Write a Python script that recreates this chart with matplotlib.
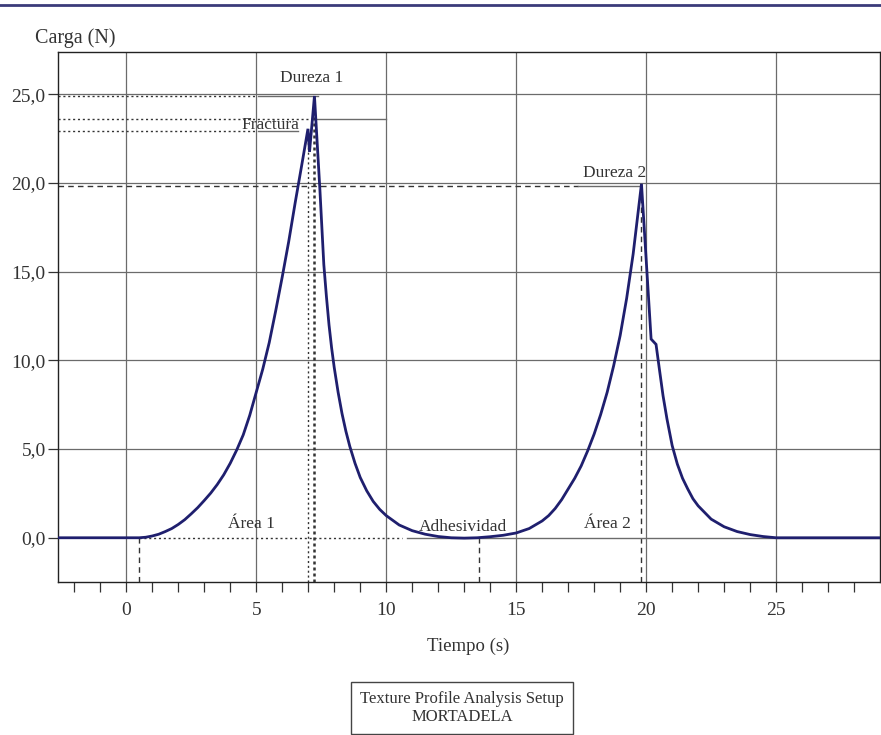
import matplotlib.pyplot as plt
from matplotlib.lines import Line2D

plt.rcParams['font.family'] = ['Liberation Serif', 'DejaVu Serif']

# force curve (time in s, force in N)
time_s = [-2.6, 0.0, 0.5, 0.75, 1.0, 1.25, 1.5, 1.75, 2.0, 2.25, 2.5, 2.75, 3.0,
          3.25, 3.5, 3.75, 4.0, 4.25, 4.5, 4.75, 5.0, 5.25, 5.5, 5.75, 6.0, 6.25,
          6.5, 6.75, 6.99, 7.05, 7.24, 7.45, 7.6, 7.7, 7.8, 7.9, 8.0, 8.15, 8.3,
          8.45, 8.6, 8.8, 9.0, 9.25, 9.5, 9.75, 10.0, 10.5, 11.0, 11.5, 12.0,
          12.5, 13.0, 13.5, 14.0, 14.5, 15.0, 15.5, 16.0, 16.25, 16.5, 16.75,
          17.0, 17.25, 17.5, 17.75, 18.0, 18.25, 18.5, 18.75, 19.0, 19.25, 19.5,
          19.82, 20.19, 20.38, 20.5, 20.65, 20.8, 21.0, 21.2, 21.4, 21.6, 21.8,
          22.0, 22.5, 23.0, 23.5, 24.0, 24.5, 25.0, 29.0]
force_n = [0.0, 0.0, 0.0, 0.03, 0.1, 0.2, 0.35, 0.52, 0.75, 1.02, 1.35, 1.7, 2.1,
           2.52, 3.0, 3.55, 4.2, 4.95, 5.8, 6.9, 8.2, 9.5, 11.0, 12.8, 14.7, 16.7,
           18.9, 21.0, 23.05, 21.75, 24.9, 19.6, 15.4, 13.6, 12.0, 10.7, 9.6, 8.2,
           7.0, 6.0, 5.15, 4.2, 3.4, 2.65, 2.05, 1.6, 1.25, 0.72, 0.4, 0.2, 0.07,
           0.0, -0.02, 0.0, 0.06, 0.14, 0.27, 0.52, 0.95, 1.25, 1.65, 2.15,
           2.75, 3.35, 4.05, 4.9, 5.85, 6.95, 8.2, 9.7, 11.4, 13.5, 16.0,
           19.95, 11.2, 10.9, 9.6, 8.0, 6.7, 5.2, 4.15, 3.35, 2.75, 2.2,
           1.8, 1.05, 0.62, 0.35, 0.18, 0.07, 0.0, 0.0]

# marked points
fractura = (6.99, 23.05)
dureza1 = (7.24, 24.9)
dureza2 = (19.82, 19.8)
ref_level = 23.6
area1_start = 0.48
adhes_end = 13.57

x_ticks = [0, 5, 10, 15, 20, 25]
y_ticks = [0, 5, 10, 15, 20, 25]
y_labels = ['0,0', '5,0', '10,0', '15,0', '20,0', '25,0']

curve_col = '#1f1f6e'
grid_col = '#6b6b6b'
mark_col = '#333333'
text_col = '#333333'

fig = plt.figure(figsize=(8.81, 7.35), dpi=100)
ax = fig.add_axes([0.066, 0.208, 0.933, 0.721])
xmin, xmax = -2.62, 29.0
ymin, ymax = -2.5, 27.37
ax.set_xlim(xmin, xmax)
ax.set_ylim(ymin, ymax)

# grid (no line at y = 0)
for xv in x_ticks:
    ax.axvline(xv, color=grid_col, lw=0.9, zorder=1)
for yv in y_ticks[1:]:
    ax.axhline(yv, color=grid_col, lw=0.9, zorder=1)

ax.set_xticks(x_ticks)
ax.set_xticks(range(-2, 29), minor=True)
ax.set_yticks(y_ticks)
ax.set_yticklabels(y_labels)
ax.tick_params(axis='both', direction='out', length=7, width=0.9, color=mark_col,
               labelsize=14, labelcolor=text_col)
ax.tick_params(axis='x', which='minor', direction='out', length=7, width=0.9, color=mark_col)
ax.tick_params(axis='x', pad=7)
ax.tick_params(axis='y', pad=2)
for s in ax.spines.values():
    s.set_color('#222222')
    s.set_linewidth(1.0)

# annotation lines
dot = dict(color=mark_col, lw=1.0, ls=(0, (1.5, 2)), zorder=2)
dash = dict(color=mark_col, lw=1.0, ls=(0, (4, 3)), zorder=2)
solid = dict(color=grid_col, lw=1.0, zorder=2)

ax.plot([xmin, 5.0], [dureza1[1], dureza1[1]], **dot)
ax.plot([5.05, 7.38], [dureza1[1], dureza1[1]], **solid)
ax.plot([xmin, dureza1[0]], [ref_level, ref_level], **dot)
ax.plot([7.3, 10.0], [ref_level, ref_level], **solid)
ax.plot([xmin, 5.0], [22.9, 22.9], **dot)
ax.plot([5.05, 6.6], [22.9, 22.9], **solid)
ax.plot([fractura[0], fractura[0]], [ymin, fractura[1]], **dot)
ax.plot([dureza1[0], dureza1[0]], [ymin, dureza1[1]], color=mark_col, lw=1.8,
        ls=(0, (1.2, 1.2)), zorder=2)

ax.plot([xmin, 17.38], [dureza2[1], dureza2[1]], **dash)
ax.plot([17.38, dureza2[0]], [dureza2[1], dureza2[1]], **solid)
ax.plot([dureza2[0], dureza2[0]], [ymin, dureza2[1]], **dash)

ax.plot([area1_start, area1_start], [ymin, 0], **dash)
ax.plot([adhes_end, adhes_end], [ymin, 0], **dash)
ax.plot([area1_start, 10.6], [0, 0], **dot)
ax.plot([10.8, xmax], [0, 0], **solid)

ax.plot(time_s, force_n, color=curve_col, lw=2.0, zorder=3, solid_joinstyle='miter')

ax.text(7.14, 25.45, 'Dureza 1', ha='center', va='bottom', fontsize=12.5, color=text_col)
ax.text(5.55, 23.25, 'Fractura', ha='center', va='center', fontsize=12.5, color=text_col,
        zorder=2.5)
ax.text(18.8, 20.1, 'Dureza 2', ha='center', va='bottom', fontsize=12.5, color=text_col)
ax.text(4.8, 0.35, 'Área 1', ha='center', va='bottom', fontsize=12.5, color=text_col)
ax.text(12.95, 0.15, 'Adhesividad', ha='center', va='bottom', fontsize=12.5, color=text_col)
ax.text(18.5, 0.35, 'Área 2', ha='center', va='bottom', fontsize=12.5, color=text_col)

fig.text(35 / 881, 1 - 38 / 735, 'Carga (N)', ha='left', va='center', fontsize=14.5,
         color=text_col)
fig.text(468 / 881, 1 - 646 / 735, 'Tiempo (s)', ha='center', va='center', fontsize=13.5,
         color=text_col)
fig.text(462 / 881, 1 - 708 / 735, 'Texture Profile Analysis Setup\nMORTADELA',
         ha='center', va='center', fontsize=12, color=text_col, linespacing=1.15,
         bbox=dict(boxstyle='square,pad=0.55', fc='white', ec='#444444', lw=1.0))

# decorative rule at the top of the page
fig.add_artist(Line2D([0, 1], [1 - 5 / 735, 1 - 5 / 735], color='#3b3b7a', lw=2.0))

fig.savefig('out.png', dpi=100)
